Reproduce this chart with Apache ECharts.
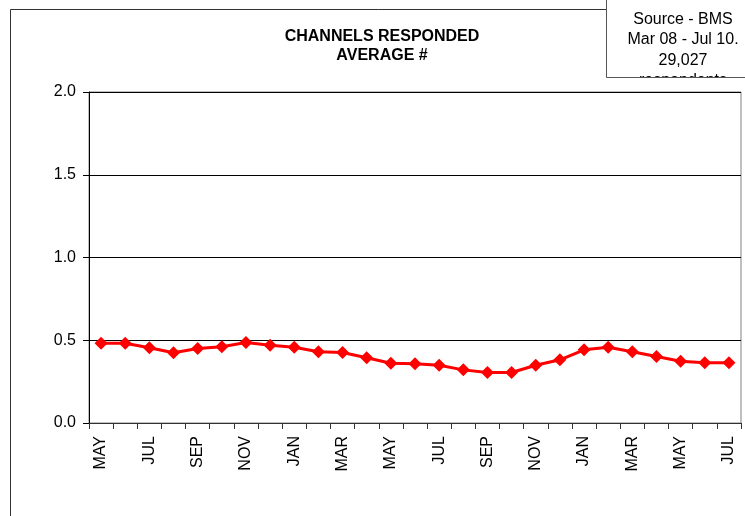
<!DOCTYPE html>
<html>
<head>
<meta charset="utf-8">
<style>
  html, body { margin: 0; padding: 0; background: #fff; }
  #chart { width: 745px; height: 516px; }
</style>
<script src="https://cdn.jsdelivr.net/npm/echarts@6/dist/echarts.min.js"></script>
</head>
<body>
<div id="chart"></div>
<script>
// Months from May 2008 to July 2010
const months = ['MAY','JUN','JUL','AUG','SEP','OCT','NOV','DEC',
                'JAN','FEB','MAR','APR','MAY','JUN','JUL','AUG','SEP','OCT','NOV','DEC',
                'JAN','FEB','MAR','APR','MAY','JUN','JUL'];
// Average number of channels responded per month
const avgChannels = [0.482, 0.482, 0.455, 0.424, 0.450, 0.461, 0.487, 0.470,
                     0.458, 0.430, 0.426, 0.394, 0.361, 0.358, 0.349, 0.321, 0.305, 0.305, 0.349, 0.382,
                     0.442, 0.458, 0.430, 0.402, 0.373, 0.364, 0.364];
const titleLines = ['CHANNELS RESPONDED', 'AVERAGE #'];
const sourceLines = ['Source - BMS', 'Mar 08 - Jul 10.', '29,027', 'respondents'];

const FONT = '"Liberation Sans", Arial, sans-serif';
const chart = echarts.init(document.getElementById('chart'), null, { renderer: 'canvas' });

const graphics = [
  // outer chart frame (left and top edges)
  { type: 'polyline', silent: true, z: 1,
    shape: { points: [[10.5, 530], [10.5, 9.5], [800, 9.5]] },
    style: { stroke: '#333', lineWidth: 1, fill: null } },
  // title
  { type: 'text', x: 382, y: 27, z: 5,
    style: { text: titleLines.join('\n'), font: 'bold 16px ' + FONT, fill: '#000',
             align: 'center', verticalAlign: 'top', lineHeight: 19 } },
  // white fill behind note box (under the text)
  { type: 'rect', silent: true, z: 9,
    shape: { x: 607, y: 0, width: 150, height: 77 },
    style: { fill: '#fff', stroke: null } },
  // source note text (last line runs under the box edge)
  { type: 'text', x: 683, y: 9, z: 10,
    style: { text: sourceLines.join('\n'), font: '16px ' + FONT, fill: '#000',
             align: 'center', verticalAlign: 'top', lineHeight: 20.5 } },
  // white area below the note box hides the overflow
  { type: 'rect', silent: true, z: 11,
    shape: { x: 607, y: 78, width: 150, height: 13 },
    style: { fill: '#fff', stroke: null } },
  // note box border
  { type: 'rect', silent: true, z: 12,
    shape: { x: 606.5, y: -10, width: 200, height: 87.5 },
    style: { fill: null, stroke: '#555', lineWidth: 1 } }
];

chart.setOption({
  animation: false,
  backgroundColor: '#fff',
  grid: { left: 89, right: 4, top: 92, bottom: 93, show: true,
          borderColor: '#808080', borderWidth: 1, backgroundColor: 'transparent' },
  xAxis: {
    type: 'category',
    data: months,
    boundaryGap: true,
    axisLine: { lineStyle: { color: '#333', width: 1 } },
    axisTick: { show: true, alignWithLabel: false, interval: 0, length: 6,
                lineStyle: { color: '#333' } },
    axisLabel: { interval: 1, rotate: 90, margin: 13, color: '#000',
                 fontFamily: FONT, fontSize: 16 },
    splitLine: { show: false }
  },
  yAxis: {
    type: 'value',
    min: 0, max: 2, interval: 0.5,
    axisLine: { show: true, lineStyle: { color: '#000', width: 1 } },
    axisTick: { show: true, length: 6, lineStyle: { color: '#000' } },
    axisLabel: { margin: 13, color: '#000', fontFamily: FONT, fontSize: 16,
                 formatter: v => v.toFixed(1) },
    splitLine: { show: true, lineStyle: { color: '#000', width: 1 } }
  },
  series: [{
    type: 'line',
    data: avgChannels,
    symbol: 'diamond',
    symbolSize: 13,
    showAllSymbol: true,
    lineStyle: { color: '#ff0000', width: 3 },
    itemStyle: { color: '#ff0000', borderWidth: 0 },
    z: 3
  }],
  graphic: graphics
});
</script>
</body>
</html>
